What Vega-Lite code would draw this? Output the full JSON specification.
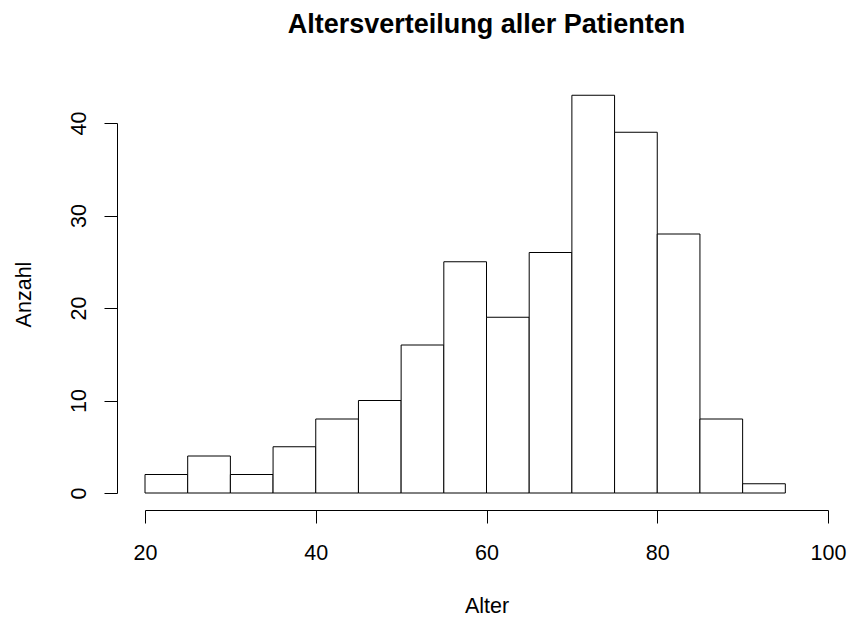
{
  "$schema": "https://vega.github.io/schema/vega-lite/v6.json",
  "width": 683,
  "height": 370,
  "autosize": {"type": "none"},
  "padding": {"left": 145, "top": 123, "right": 20, "bottom": 124},
  "background": "white",
  "config": {
    "view": {"stroke": null},
    "font": "Liberation Sans",
    "axis": {
      "grid": false,
      "domainColor": "#000",
      "domainWidth": 1,
      "tickColor": "#000",
      "tickWidth": 1,
      "tickSize": 13,
      "labelFont": "Liberation Sans",
      "labelFontSize": 21.5,
      "labelColor": "#000",
      "titleFont": "Liberation Sans",
      "titleFontSize": 21.5,
      "titleFontWeight": "normal",
      "titleColor": "#000",
      "labelFlush": false,
      "labelOverlap": false
    }
  },
  "title": {
    "text": "Altersverteilung aller Patienten",
    "font": "Liberation Sans",
    "fontSize": 27,
    "fontWeight": "bold",
    "color": "#000",
    "anchor": "middle",
    "frame": "group",
    "baseline": "alphabetic",
    "offset": 35
  },
  "data": {
    "values": [
      {"von": 20, "bis": 25, "anzahl": 2},
      {"von": 25, "bis": 30, "anzahl": 4},
      {"von": 30, "bis": 35, "anzahl": 2},
      {"von": 35, "bis": 40, "anzahl": 5},
      {"von": 40, "bis": 45, "anzahl": 8},
      {"von": 45, "bis": 50, "anzahl": 10},
      {"von": 50, "bis": 55, "anzahl": 16},
      {"von": 55, "bis": 60, "anzahl": 25},
      {"von": 60, "bis": 65, "anzahl": 19},
      {"von": 65, "bis": 70, "anzahl": 26},
      {"von": 70, "bis": 75, "anzahl": 43},
      {"von": 75, "bis": 80, "anzahl": 39},
      {"von": 80, "bis": 85, "anzahl": 28},
      {"von": 85, "bis": 90, "anzahl": 8},
      {"von": 90, "bis": 95, "anzahl": 1}
    ]
  },
  "mark": {"type": "rect", "fill": "white", "stroke": "#000", "strokeWidth": 1},
  "encoding": {
    "x": {
      "field": "von",
      "type": "quantitative",
      "scale": {"domain": [20, 100], "nice": false, "zero": false},
      "axis": {
        "title": "Alter",
        "values": [20, 40, 60, 80, 100],
        "offset": 17,
        "labelBaseline": "alphabetic",
        "labelPadding": 36,
        "titleBaseline": "alphabetic",
        "titleY": 102
      }
    },
    "x2": {"field": "bis"},
    "y": {
      "field": "anzahl",
      "type": "quantitative",
      "scale": {"domain": [0, 40], "nice": false},
      "axis": {
        "title": "Anzahl",
        "values": [0, 10, 20, 30, 40],
        "offset": 28,
        "labelAngle": 270,
        "labelAlign": "center",
        "labelBaseline": "alphabetic",
        "labelPadding": 18.5,
        "titleAngle": 270,
        "titleAlign": "center",
        "titleBaseline": "alphabetic",
        "titleX": -87,
        "titleY": 171
      }
    },
    "y2": {"datum": 0}
  }
}
